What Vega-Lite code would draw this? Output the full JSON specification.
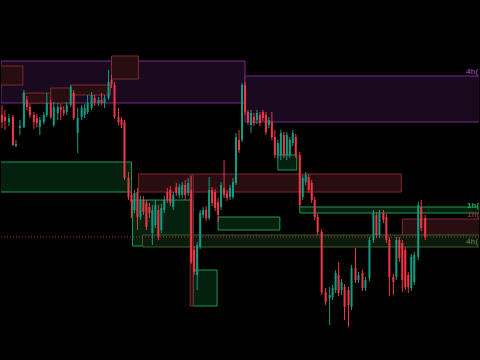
{
  "$schema": "https://vega.github.io/schema/vega-lite/v6.json",
  "width": 480,
  "height": 360,
  "autosize": {"type": "fit", "contains": "padding"},
  "padding": 0,
  "background": "#000000",
  "config": {"view": {"stroke": null}, "scale": {"continuousPadding": 0}},
  "datasets": {
    "zones": [
      {"x1": 0, "x2": 245, "y1": 61, "y2": 103, "k": "p"},
      {"x1": 245, "x2": 481, "y1": 76, "y2": 122, "k": "p"},
      {"x1": -1, "x2": 22, "y1": 66, "y2": 85, "k": "r"},
      {"x1": 22, "x2": 50, "y1": 93, "y2": 103, "k": "r"},
      {"x1": 50, "x2": 70, "y1": 88, "y2": 103, "k": "r"},
      {"x1": 70, "x2": 110, "y1": 85, "y2": 95, "k": "r"},
      {"x1": 111, "x2": 138, "y1": 56, "y2": 79, "k": "r"},
      {"x1": 138, "x2": 402, "y1": 174, "y2": 192, "k": "r"},
      {"x1": 403, "x2": 481, "y1": 219, "y2": 237, "k": "r"},
      {"x1": -1, "x2": 131, "y1": 162, "y2": 192, "k": "g"},
      {"x1": 132, "x2": 193, "y1": 200, "y2": 246, "k": "g"},
      {"x1": 218, "x2": 280, "y1": 217, "y2": 230, "k": "g"},
      {"x1": 193, "x2": 217, "y1": 270, "y2": 306, "k": "g"},
      {"x1": 278, "x2": 297, "y1": 155, "y2": 170, "k": "g"},
      {"x1": 300, "x2": 481, "y1": 207, "y2": 213, "k": "g"},
      {"x1": 142, "x2": 481, "y1": 235, "y2": 247, "k": "o"},
      {"x1": 190, "x2": 193, "y1": 175, "y2": 306, "k": "r"}
    ],
    "labels": [
      {"x": 467, "y": 72, "txt": "4h(", "k": "p"},
      {"x": 468, "y": 206, "txt": "1h(", "k": "g"},
      {"x": 468, "y": 215, "txt": "1h(", "k": "r"},
      {"x": 467, "y": 242, "txt": "4h(", "k": "o"}
    ],
    "candles": [
      {"t":1,"o":115,"c":122,"h":105,"l":128},
      {"t":4,"o":117,"c":121,"h":110,"l":130},
      {"t":8,"o":122,"c":118,"h":114,"l":126},
      {"t":12,"o":117,"c":145,"h":115,"l":146},
      {"t":15,"o":146,"c":144,"h":140,"l":147},
      {"t":19,"o":128,"c":126,"h":120,"l":135},
      {"t":23,"o":127,"c":93,"h":90,"l":128},
      {"t":26,"o":100,"c":107,"h":96,"l":110},
      {"t":29,"o":107,"c":115,"h":104,"l":118},
      {"t":33,"o":115,"c":122,"h":112,"l":129},
      {"t":36,"o":118,"c":123,"h":114,"l":127},
      {"t":39,"o":127,"c":120,"h":117,"l":135},
      {"t":43,"o":122,"c":115,"h":112,"l":124},
      {"t":46,"o":115,"c":103,"h":93,"l":117},
      {"t":50,"o":103,"c":117,"h":100,"l":119},
      {"t":53,"o":125,"c":107,"h":102,"l":127},
      {"t":57,"o":113,"c":107,"h":103,"l":120},
      {"t":60,"o":107,"c":110,"h":104,"l":120},
      {"t":63,"o":110,"c":113,"h":106,"l":116},
      {"t":66,"o":112,"c":105,"h":102,"l":115},
      {"t":70,"o":105,"c":87,"h":85,"l":107},
      {"t":73,"o":93,"c":118,"h":90,"l":120},
      {"t":77,"o":133,"c":118,"h":108,"l":153},
      {"t":81,"o":117,"c":108,"h":105,"l":120},
      {"t":84,"o":115,"c":108,"h":104,"l":118},
      {"t":87,"o":112,"c":103,"h":95,"l":114},
      {"t":91,"o":108,"c":95,"h":92,"l":110},
      {"t":94,"o":98,"c":103,"h":95,"l":106},
      {"t":98,"o":103,"c":100,"h":97,"l":106},
      {"t":101,"o":100,"c":103,"h":93,"l":105},
      {"t":104,"o":103,"c":98,"h":95,"l":108},
      {"t":108,"o":98,"c":82,"h":70,"l":100},
      {"t":111,"o":80,"c":85,"h":75,"l":88},
      {"t":114,"o":85,"c":117,"h":82,"l":119},
      {"t":118,"o":117,"c":122,"h":108,"l":125},
      {"t":121,"o":120,"c":125,"h":117,"l":128},
      {"t":124,"o":122,"c":178,"h":120,"l":180},
      {"t":128,"o":178,"c":197,"h":172,"l":200},
      {"t":131,"o":195,"c":202,"h":190,"l":218},
      {"t":134,"o":210,"c":193,"h":190,"l":213},
      {"t":137,"o":192,"c":217,"h":188,"l":230},
      {"t":140,"o":217,"c":200,"h":196,"l":220},
      {"t":143,"o":200,"c":212,"h":196,"l":215},
      {"t":146,"o":203,"c":227,"h":200,"l":230},
      {"t":149,"o":207,"c":213,"h":203,"l":218},
      {"t":152,"o":233,"c":210,"h":205,"l":245},
      {"t":155,"o":225,"c":205,"h":200,"l":228},
      {"t":158,"o":210,"c":237,"h":205,"l":240},
      {"t":161,"o":230,"c":208,"h":204,"l":233},
      {"t":164,"o":210,"c":200,"h":196,"l":213},
      {"t":167,"o":192,"c":200,"h":188,"l":203},
      {"t":170,"o":190,"c":203,"h":186,"l":206},
      {"t":173,"o":207,"c":195,"h":192,"l":210},
      {"t":176,"o":187,"c":193,"h":183,"l":196},
      {"t":179,"o":195,"c":187,"h":184,"l":198},
      {"t":182,"o":195,"c":185,"h":182,"l":198},
      {"t":185,"o":185,"c":195,"h":180,"l":200},
      {"t":188,"o":193,"c":183,"h":178,"l":196},
      {"t":191,"o":190,"c":262,"h":176,"l":264},
      {"t":194,"o":250,"c":272,"h":246,"l":275},
      {"t":197,"o":275,"c":245,"h":242,"l":290},
      {"t":200,"o":247,"c":213,"h":210,"l":249},
      {"t":203,"o":215,"c":210,"h":207,"l":218},
      {"t":206,"o":210,"c":218,"h":206,"l":221},
      {"t":209,"o":218,"c":190,"h":177,"l":220},
      {"t":212,"o":190,"c":203,"h":187,"l":206},
      {"t":215,"o":192,"c":208,"h":189,"l":211},
      {"t":218,"o":202,"c":215,"h":198,"l":222},
      {"t":221,"o":207,"c":185,"h":182,"l":210},
      {"t":224,"o":188,"c":195,"h":160,"l":198},
      {"t":227,"o":193,"c":198,"h":190,"l":201},
      {"t":230,"o":197,"c":188,"h":185,"l":200},
      {"t":233,"o":197,"c":182,"h":178,"l":199},
      {"t":236,"o":183,"c":137,"h":133,"l":185},
      {"t":239,"o":140,"c":150,"h":130,"l":153},
      {"t":242,"o":140,"c":85,"h":83,"l":142},
      {"t":245,"o":85,"c":112,"h":82,"l":115},
      {"t":248,"o":112,"c":122,"h":110,"l":125},
      {"t":251,"o":125,"c":113,"h":110,"l":133},
      {"t":254,"o":117,"c":123,"h":113,"l":126},
      {"t":257,"o":120,"c":113,"h":110,"l":124},
      {"t":260,"o":115,"c":123,"h":112,"l":126},
      {"t":263,"o":112,"c":118,"h":110,"l":121},
      {"t":266,"o":115,"c":132,"h":112,"l":135},
      {"t":269,"o":125,"c":120,"h":117,"l":128},
      {"t":272,"o":122,"c":137,"h":112,"l":140},
      {"t":275,"o":137,"c":155,"h":130,"l":158},
      {"t":278,"o":155,"c":143,"h":140,"l":158},
      {"t":281,"o":155,"c":133,"h":130,"l":160},
      {"t":284,"o":135,"c":155,"h":132,"l":158},
      {"t":287,"o":155,"c":135,"h":132,"l":160},
      {"t":290,"o":155,"c":140,"h":137,"l":158},
      {"t":293,"o":143,"c":133,"h":130,"l":146},
      {"t":296,"o":137,"c":155,"h":134,"l":158},
      {"t":300,"o":155,"c":205,"h":152,"l":207},
      {"t":303,"o":197,"c":178,"h":175,"l":200},
      {"t":306,"o":182,"c":175,"h":172,"l":185},
      {"t":309,"o":177,"c":190,"h":174,"l":193},
      {"t":312,"o":183,"c":200,"h":180,"l":203},
      {"t":315,"o":200,"c":217,"h":197,"l":220},
      {"t":318,"o":217,"c":232,"h":214,"l":235},
      {"t":322,"o":232,"c":292,"h":229,"l":295},
      {"t":326,"o":292,"c":302,"h":288,"l":305},
      {"t":330,"o":298,"c":295,"h":287,"l":325},
      {"t":333,"o":297,"c":288,"h":285,"l":300},
      {"t":336,"o":290,"c":273,"h":270,"l":293},
      {"t":339,"o":275,"c":293,"h":262,"l":296},
      {"t":342,"o":290,"c":282,"h":279,"l":295},
      {"t":345,"o":287,"c":307,"h":284,"l":320},
      {"t":349,"o":290,"c":305,"h":287,"l":327},
      {"t":352,"o":307,"c":268,"h":265,"l":310},
      {"t":356,"o":268,"c":280,"h":248,"l":283},
      {"t":359,"o":280,"c":275,"h":272,"l":283},
      {"t":363,"o":273,"c":288,"h":270,"l":291},
      {"t":366,"o":288,"c":280,"h":277,"l":291},
      {"t":370,"o":278,"c":240,"h":237,"l":281},
      {"t":374,"o":240,"c":213,"h":210,"l":243},
      {"t":377,"o":215,"c":235,"h":212,"l":238},
      {"t":380,"o":235,"c":213,"h":210,"l":238},
      {"t":384,"o":213,"c":220,"h":210,"l":223},
      {"t":387,"o":217,"c":240,"h":214,"l":243},
      {"t":390,"o":240,"c":277,"h":237,"l":296},
      {"t":394,"o":277,"c":282,"h":274,"l":295},
      {"t":397,"o":277,"c":240,"h":237,"l":280},
      {"t":400,"o":240,"c":258,"h":237,"l":262},
      {"t":403,"o":243,"c":280,"h":240,"l":292},
      {"t":406,"o":250,"c":287,"h":247,"l":290},
      {"t":409,"o":275,"c":287,"h":272,"l":293},
      {"t":412,"o":288,"c":257,"h":254,"l":291},
      {"t":415,"o":282,"c":255,"h":252,"l":285},
      {"t":419,"o":257,"c":205,"h":202,"l":260},
      {"t":422,"o":207,"c":228,"h":200,"l":231},
      {"t":426,"o":218,"c":237,"h":215,"l":240}
    ],
    "dots": [{"y": 237}]
  },
  "layer": [
    {
      "data": {"name": "zones"},
      "mark": {"type": "rect", "strokeWidth": 1, "fillOpacity": 1, "clip": true},
      "encoding": {
        "x": {"field": "x1", "type": "quantitative", "scale": {"domain": [0, 480], "nice": false, "zero": false, "padding": 0}, "axis": null},
        "x2": {"field": "x2"},
        "y": {"field": "y1", "type": "quantitative", "scale": {"domain": [0, 360], "nice": false, "zero": false, "reverse": true, "padding": 0}, "axis": null},
        "y2": {"field": "y2"},
        "fill": {"field": "k", "type": "nominal", "legend": null, "scale": {"domain": ["p", "r", "g", "o"], "range": ["#1a0a1f", "#280d11", "#04200f", "#0c1a0b"]}},
        "stroke": {"field": "k", "type": "nominal", "legend": null, "scale": {"domain": ["p", "r", "g", "o"], "range": ["#7a2a8a", "#7e2a30", "#1d9a52", "#3e5f2c"]}}
      }
    },
    {
      "data": {"name": "dots"},
      "mark": {"type": "rule", "color": "#a8302e", "strokeDash": [1, 2], "strokeWidth": 1},
      "encoding": {
        "y": {"field": "y", "type": "quantitative"}
      }
    },
    {
      "data": {"name": "candles"},
      "mark": {"type": "rule", "strokeWidth": 1},
      "encoding": {
        "x": {"field": "t", "type": "quantitative"},
        "y": {"field": "h", "type": "quantitative"},
        "y2": {"field": "l"},
        "color": {"condition": {"test": "datum.c > datum.o", "value": "#f23645"}, "value": "#0f9e84"}
      }
    },
    {
      "data": {"name": "candles"},
      "mark": {"type": "bar", "size": 2},
      "encoding": {
        "x": {"field": "t", "type": "quantitative"},
        "y": {"field": "o", "type": "quantitative"},
        "y2": {"field": "c"},
        "color": {"condition": {"test": "datum.c > datum.o", "value": "#f23645"}, "value": "#0f9e84"}
      }
    },
    {
      "data": {"name": "labels"},
      "mark": {"type": "text", "align": "left", "baseline": "middle", "fontSize": 8, "fontWeight": "bold", "font": "Liberation Sans", "clip": true},
      "encoding": {
        "x": {"field": "x", "type": "quantitative"},
        "y": {"field": "y", "type": "quantitative"},
        "text": {"field": "txt"},
        "color": {"field": "k", "type": "nominal", "legend": null, "scale": {"domain": ["p", "r", "g", "o"], "range": ["#8a3a9c", "#8e3035", "#22a058", "#4a6a36"]}}
      }
    }
  ]
}
